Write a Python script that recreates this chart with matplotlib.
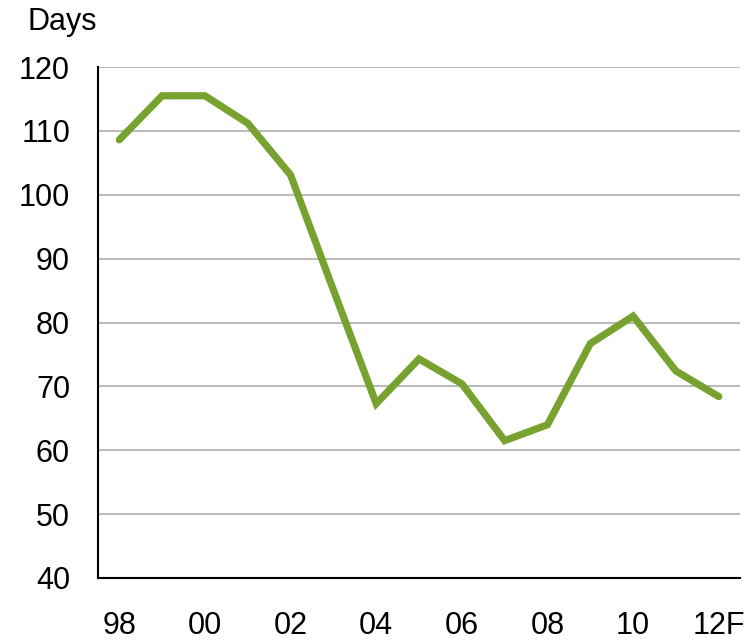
import numpy as np
import matplotlib.pyplot as plt

plt.rcParams['font.family'] = ['Liberation Sans', 'DejaVu Sans']

# days, 1998 .. 2012 forecast
years = ['98', '99', '00', '01', '02', '03', '04', '05', '06', '07', '08', '09', '10', '11', '12F']
days = [108.6, 115.5, 115.5, 111.2, 103.1, 85.1, 67.3, 74.3, 70.4, 61.5, 64.0, 76.7, 81.0, 72.4, 68.4]
yticks = [40, 50, 60, 70, 80, 90, 100, 110, 120]

fig = plt.figure(figsize=(7.53, 6.42), dpi=100)
ax = fig.add_axes([0.130, 0.0997, 0.853, 0.7959])

x = np.arange(len(years))
ax.plot(x, days, color='#77A22F', lw=5.2, solid_joinstyle='miter', solid_capstyle='round')

ax.set_xlim(-0.5, len(years) - 0.5)
ax.set_ylim(40, 120)
ax.set_yticks(yticks)
ax.set_xticks(x[::2])
ax.set_xticklabels(years[::2])
ax.tick_params(length=0, labelsize=22)
ax.tick_params(axis='x', pad=24)
ax.tick_params(axis='y', pad=20)
ax.grid(axis='y', color='#BBBBBB', lw=1.5)
ax.set_axisbelow(True)
for s in ['top', 'right']:
    ax.spines[s].set_visible(False)
for s in ['left', 'bottom']:
    ax.spines[s].set_linewidth(1.5)

fig.text(0.036, 0.966, 'Days', fontsize=22, ha='left', va='center')

fig.savefig('out.png', dpi=100)
